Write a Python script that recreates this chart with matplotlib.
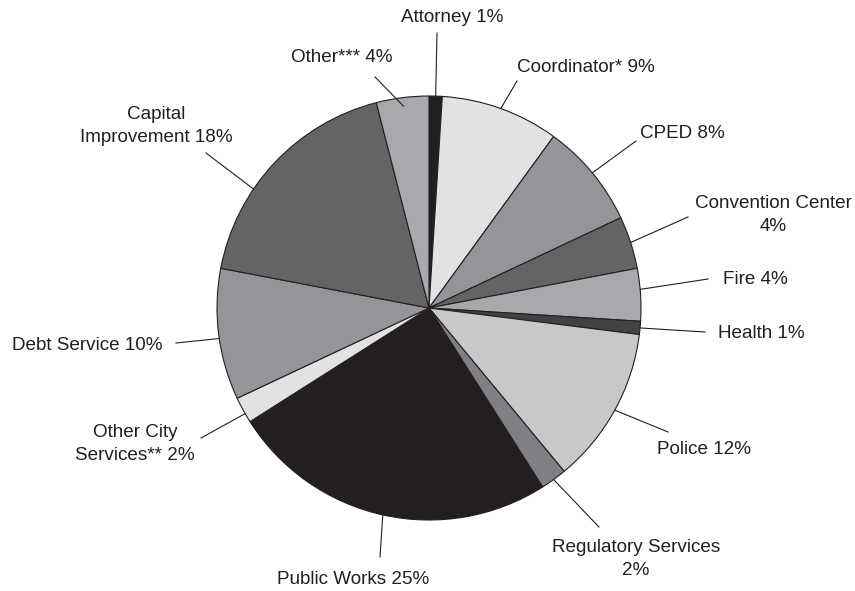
import numpy as np
import matplotlib
matplotlib.use("Agg")
import matplotlib.pyplot as plt

plt.rcParams['font.family'] = ['Liberation Sans', 'DejaVu Sans']

# budget share by department, clockwise from the top
labels = ["Attorney 1%", "Coordinator* 9%", "CPED 8%", "Convention Center\n4%",
          "Fire 4%", "Health 1%", "Police 12%", "Regulatory Services\n2%",
          "Public Works 25%", "Other City\nServices** 2%", "Debt Service 10%",
          "Capital\nImprovement 18%", "Other*** 4%"]
shares = [1, 9, 8, 4, 4, 1, 12, 2, 25, 2, 10, 18, 4]
colors = ["#231f20", "#e1e2e3", "#939598", "#636466", "#a7a9ac", "#414244",
          "#c7c8ca", "#7f8083", "#231f20", "#e1e2e3", "#939598", "#636466",
          "#a7a9ac"]

# label layout in pixels (text centre, outer end of leader line,
# where along the wedge the leader hits, radius factor)
text_pos = [(452, 18), (586, 67), (682, 133), (773, 215), (755, 279),
            (761, 334), (704, 449), (636, 559), (353, 580), (135, 444),
            (87, 345), (156, 126), (342, 58)]
line_out = [(437, 33), (517, 81), (636, 141), (688, 217), (708, 279),
            (705, 332), (668, 432), (599, 527), (380, 557), (201, 438),
            (176, 343), (206, 153), (375, 77)]
along = [0.5, 0.5, 0.5, 0.5, 0.4, 0.5, 0.5, 0.5, 0.5, 0.35, 0.47, 0.36, 0.5]
rfac = [1, 1, 1, 1, 1, 1, 1, 1, 1, 1, 1, 1, 0.96]

W, H = 855, 591
fig = plt.figure(figsize=(W / 100, H / 100), dpi=100)
ax = fig.add_axes([0, 0, 1, 1])

cx, cy, R = 429, H - 308, 212
wedges, _ = ax.pie(shares, colors=colors, startangle=90, counterclock=False,
                   center=(cx, cy), radius=R, frame=True,
                   wedgeprops=dict(edgecolor="#231f20", linewidth=0.8))
ax.set_xlim(0, W)
ax.set_ylim(0, H)
ax.set_aspect("equal")
ax.axis("off")

for w, lab, tp, lo, a, rf in zip(wedges, labels, text_pos, line_out, along, rfac):
    ang = np.deg2rad(w.theta2 + (w.theta1 - w.theta2) * a)
    xin = cx + R * rf * np.cos(ang)
    yin = cy + R * rf * np.sin(ang)
    ax.plot([lo[0], xin], [H - lo[1], yin], color="#231f20", linewidth=0.8)
    ax.text(tp[0], H - tp[1], lab, ha="center", va="center",
            multialignment="center", fontsize=13.6, color="#231f20",
            linespacing=1.4)

fig.savefig("out.png", dpi=100)
